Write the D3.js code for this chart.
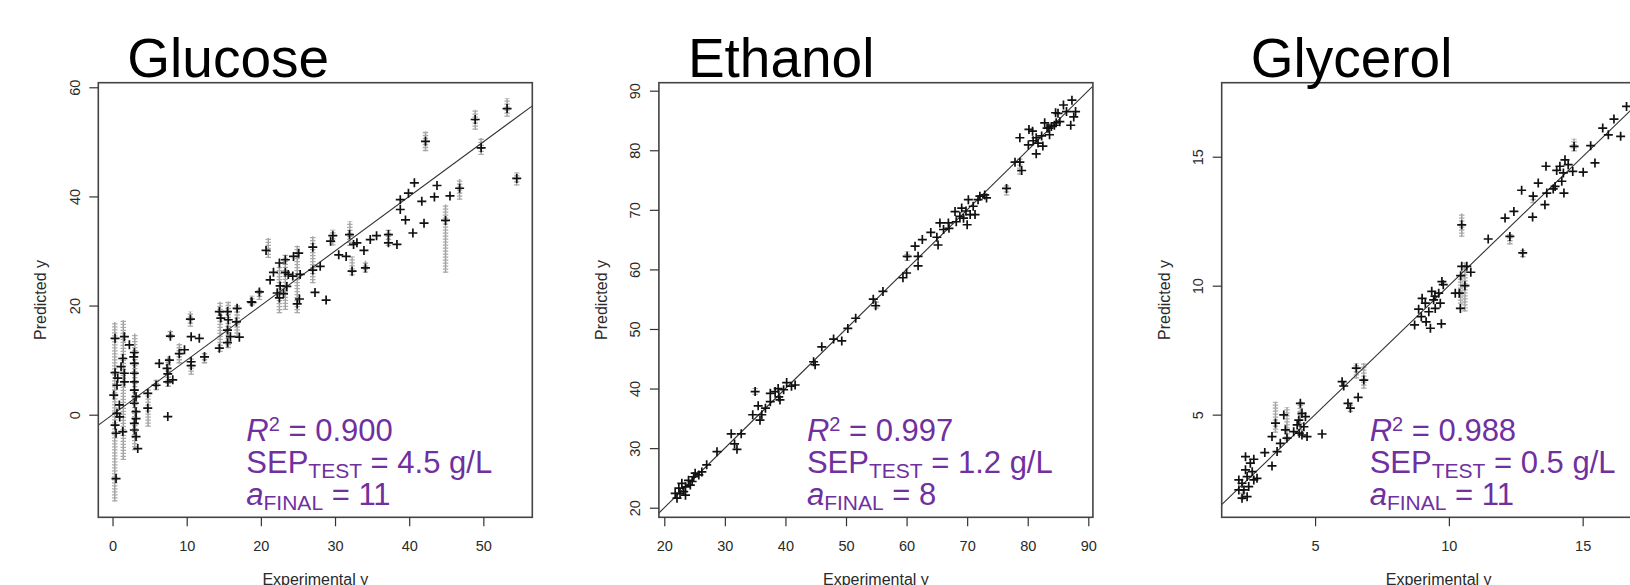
<!DOCTYPE html>
<html>
<head>
<meta charset="utf-8">
<script src="https://cdn.jsdelivr.net/npm/d3@7"></script>
<style>
body{margin:0;background:#fff}
svg{display:block}
text{font-family:"Liberation Sans",Arial,Helvetica,sans-serif}
</style>
</head>
<body>
<svg id="chart" width="1630" height="585"></svg>
<script>
// panel titles and fit statistics
var titles = ["Glucose", "Ethanol", "Glycerol"];
var r2Values = ["0.900", "0.997", "0.988"];
var sepValues = ["4.5", "1.2", "0.5"];
var aFinalValues = ["11", "8", "11"];

// axis ranges and ticks
var xDomains = [[-1.92, 56.6], [19.11, 90.76], [1.51, 17.73]];
var yDomains = [[-18.8, 60.84], [18.39, 91.34], [1.02, 17.87]];
var xTicks = [[0, 10, 20, 30, 40, 50], [20, 30, 40, 50, 60, 70, 80, 90], [5, 10, 15]];
var yTicks = [[0, 20, 40, 60], [20, 30, 40, 50, 60, 70, 80, 90], [5, 10, 15]];

// black "+" : [experimental, predicted]
var glucosePts = [[0.34,14.0],[1.6,14.3],[2.27,12.8],[2.94,11.4],[2.86,10.6],[1.38,10.3],[1.15,8.8],[0.34,7.7],[1.6,7.6],[0.7,6.7],[1.6,6.0],[0.6,5.4],[0.16,3.6],[0.92,1.8],[0.6,0.25],[0.96,-0.4],[0.34,-1.9],[1.38,-3.1],[0.47,-3.4],[0.47,-11.7],[2.94,9.4],[2.94,7.6],[2.94,6.0],[2.94,4.5],[3.17,3.3],[2.94,2.1],[3.17,0.55],[3.17,-0.7],[2.94,-1.6],[2.94,-2.8],[3.17,-4.0],[3.4,-6.2],[4.75,3.9],[4.75,1.2],[5.87,5.4],[6.3,9.4],[7.35,8.5],[7.45,7.5],[7.45,6.0],[8.12,6.4],[7.67,10.0],[7.8,14.4],[7.45,-0.35],[9.0,11.2],[9.7,11.9],[10.5,17.5],[10.6,14.3],[10.6,9.7],[10.6,9.0],[11.7,14.0],[12.4,10.6],[14.4,18.9],[14.6,17.7],[15.5,18.9],[15.6,17.4],[16.8,19.5],[16.7,17.0],[15.5,15.5],[15.9,14.3],[17.1,14.2],[15.5,13.2],[14.4,12.2],[18.7,20.7],[19.8,22.5],[20.7,30.1],[18.8,20.6],[21.25,24.7],[21.7,26.1],[22.5,27.8],[23.3,28.4],[24.4,29.0],[25.1,29.6],[23.3,26.1],[23.7,25.7],[24.3,25.4],[25.3,25.7],[22.6,23.6],[23.5,23.5],[22.2,22.3],[23.05,22.2],[22.5,21.4],[25.2,21.2],[24.9,20.3],[27.3,22.4],[28.8,21.0],[27.0,30.7],[28.0,27.2],[27.0,26.5],[29.7,32.8],[29.4,31.8],[30.5,29.3],[31.5,29.0],[31.95,33.0],[32.5,31.2],[32.95,31.5],[33.9,30.1],[34.75,32.1],[35.6,32.8],[34.1,26.9],[32.3,26.3],[37.2,33.0],[37.2,31.5],[38.35,31.2],[39.5,35.7],[40.5,33.3],[42.0,35.1],[38.8,37.6],[38.8,39.4],[39.9,40.6],[40.7,42.5],[41.7,39.1],[43.4,39.9],[43.75,42.0],[45.5,40.1],[46.8,41.5],[44.9,35.6],[42.2,50.1],[48.9,54.1],[49.7,48.9],[53.2,56.1],[54.5,43.3]];
var ethanolPts = [[22.1,21.6],[22.6,22.4],[23.2,22.7],[22.4,23.3],[23.5,23.5],[24.3,23.8],[24.0,24.6],[24.85,25.2],[25.1,25.8],[25.7,25.5],[26.2,26.0],[27.0,27.2],[24.6,24.4],[23.5,22.1],[21.8,22.4],[22.9,24.1],[28.7,29.4],[31.05,32.4],[32.7,32.4],[31.6,30.7],[32.0,29.8],[35.0,39.5],[35.5,37.1],[34.6,35.6],[36.1,35.6],[35.8,34.7],[36.7,36.7],[37.5,37.8],[37.5,39.2],[38.3,39.5],[38.9,38.6],[39.1,38.1],[38.8,40.0],[39.7,39.8],[40.2,41.0],[41.6,40.6],[41.0,40.4],[44.65,44.5],[44.9,44.0],[46.0,47.0],[47.95,48.3],[49.3,48.0],[50.3,50.1],[51.6,51.8],[54.5,55.0],[54.9,53.9],[56.1,56.3],[59.4,58.6],[60.0,59.4],[60.1,62.2],[61.9,62.2],[61.9,60.6],[61.4,63.9],[62.6,65.0],[64.0,66.2],[65.2,64.1],[65.0,65.4],[65.5,67.8],[66.1,66.7],[66.9,67.8],[67.0,66.9],[68.0,69.7],[68.2,68.0],[68.8,68.9],[69.1,70.3],[69.8,69.8],[70.2,71.7],[70.5,69.2],[71.0,70.6],[71.3,69.2],[70.0,67.5],[71.8,71.7],[72.1,72.3],[72.9,72.5],[73.2,72.0],[69.4,68.6],[76.5,73.6],[77.9,78.0],[78.7,78.0],[79.0,76.6],[78.7,82.1],[80.2,83.5],[80.8,83.2],[80.1,80.9],[80.9,81.6],[81.4,82.1],[81.7,81.2],[82.3,82.4],[82.5,80.7],[81.4,79.4],[82.8,84.6],[83.2,83.7],[83.6,82.6],[83.9,84.0],[84.6,86.3],[84.7,84.6],[87.3,88.4],[85.9,87.6],[86.4,86.5],[87.9,86.5],[87.6,85.6],[85.0,86.2],[85.3,84.8],[87.1,84.2],[84.4,84.2],[83.5,83.7]];
var glycerolPts = [[2.15,2.47],[2.27,2.34],[2.46,2.60],[2.65,2.79],[2.40,2.86],[2.71,2.47],[2.52,2.21],[2.34,2.08],[2.46,1.82],[2.15,2.08],[2.83,2.53],[2.40,3.37],[2.71,3.27],[2.58,3.12],[2.27,1.76],[3.12,3.53],[3.39,3.01],[3.58,3.57],[3.70,3.89],[3.39,4.15],[3.52,4.67],[3.83,4.99],[3.89,4.41],[3.95,4.09],[4.20,4.34],[4.45,5.44],[4.51,5.05],[4.39,4.79],[4.64,4.92],[4.33,4.60],[4.58,4.53],[4.51,4.21],[4.70,4.15],[4.41,4.28],[5.26,4.25],[6.01,6.28],[6.07,6.11],[6.54,6.80],[6.82,6.34],[6.23,5.44],[6.61,5.67],[6.32,5.25],[8.72,8.48],[8.97,8.80],[8.87,9.09],[9.12,9.32],[9.25,8.99],[9.31,8.35],[9.15,8.60],[9.43,9.45],[9.49,9.12],[9.62,9.71],[9.68,9.32],[9.74,10.16],[9.72,8.52],[9.0,9.51],[10.24,9.71],[10.39,9.71],[10.43,9.12],[9.79,10.04],[9.36,9.78],[9.48,9.59],[10.48,10.75],[10.67,10.75],[10.82,10.52],[10.44,10.39],[10.60,10.0],[10.48,12.36],[11.47,11.81],[12.28,11.91],[12.76,11.27],[12.10,12.62],[12.43,12.88],[13.13,12.66],[13.15,13.47],[12.72,13.70],[13.34,13.98],[13.59,13.14],[13.66,13.59],[13.90,13.75],[13.97,13.85],[14.22,14.05],[14.30,13.59],[13.63,14.63],[14.03,14.47],[14.15,14.63],[14.28,14.37],[14.34,14.88],[14.46,14.69],[14.63,14.43],[15.02,14.40],[15.46,14.76],[14.68,15.40],[15.30,15.43],[15.75,16.11],[15.96,15.85],[16.42,15.79],[16.17,16.46],[16.64,16.95]];

// grey spread of predictions: [experimental, lowest, highest]
var glucoseSpread = [[0.3,-15.9,17.0],[1.45,-8.3,17.3],[3.0,-6.5,14.9],[4.8,-2.2,4.8],[5.9,4.5,6.4],[7.5,5.1,10.6],[7.8,14.0,15.5],[9.0,9.4,13.1],[10.5,16.1,18.9],[10.6,7.3,10.6],[12.4,9.4,11.5],[14.5,11.5,20.7],[15.6,12.2,20.7],[16.8,14.3,20.1],[18.8,20.0,21.8],[19.8,21.0,23.2],[21.0,28.7,32.4],[22.5,18.6,27.2],[23.3,19.2,29.3],[24.9,18.6,31.0],[27.0,24.1,32.7],[29.7,31.0,33.9],[32.0,30.9,35.4],[32.3,25.5,29.0],[34.1,26.0,28.2],[37.2,30.9,33.9],[42.2,48.3,51.9],[44.9,26.0,38.5],[46.8,39.4,43.2],[48.9,52.2,55.9],[49.7,47.6,50.7],[53.2,54.6,58.0],[54.5,42.0,44.4]];
var ethanolSpread = [[76.5,72.4,74.2],[78.7,75.9,78.6],[60.1,61.4,63.0],[35.0,38.9,40.1],[55.0,53.4,54.6]];
var glycerolSpread = [[3.52,4.3,5.5],[3.95,4.0,5.3],[4.45,4.4,5.5],[6.82,6.0,7.0],[6.54,6.4,7.0],[10.48,11.9,12.8],[10.6,9.0,10.9],[10.44,9.3,10.4],[12.76,11.1,11.4],[13.15,13.2,13.5],[14.68,15.2,15.7],[12.28,11.6,12.0],[6.32,5.1,5.4],[2.3,1.7,2.1]];

var crossSets = [glucosePts, ethanolPts, glycerolPts];
var spreadSets = [glucoseSpread, ethanolSpread, glycerolSpread];

// layout
var plotLefts = [98.3, 658.9, 1221.7];
var plotTop = 82.7, plotW = 434, plotH = 434.6;
var purple = "#7030a0";

var svg = d3.select("#chart");
svg.append("rect").attr("width", 1630).attr("height", 585).attr("fill", "#fff");

for (var i = 0; i < titles.length; i++) drawPanel(i);

function drawPanel(i) {
  var left = plotLefts[i];
  var x = d3.scaleLinear().domain(xDomains[i]).range([left, left + plotW]);
  var y = d3.scaleLinear().domain(yDomains[i]).range([plotTop + plotH, plotTop]);
  var g = svg.append("g");

  g.append("clipPath").attr("id", "clip" + i)
    .append("rect").attr("x", left).attr("y", plotTop).attr("width", plotW).attr("height", plotH);

  var inner = g.append("g").attr("clip-path", "url(#clip" + i + ")");

  // grey spread, drawn as stacked small pluses
  inner.selectAll("line.spread").data(spreadSets[i]).enter().append("line")
    .attr("class", "spread")
    .attr("x1", function(d) { return x(d[0]); }).attr("x2", function(d) { return x(d[0]); })
    .attr("y1", function(d) { return y(d[1]); }).attr("y2", function(d) { return y(d[2]); })
    .attr("stroke", "#9c9c9c").attr("stroke-width", 1.4);
  inner.selectAll("line.spreadbars").data(spreadSets[i]).enter().append("line")
    .attr("class", "spreadbars")
    .attr("x1", function(d) { return x(d[0]); }).attr("x2", function(d) { return x(d[0]); })
    .attr("y1", function(d) { return y(d[1]); }).attr("y2", function(d) { return y(d[2]); })
    .attr("stroke", "#aaaaaa").attr("stroke-width", 5.5).attr("stroke-dasharray", "1.3,1.7");

  // y = x reference line
  var lo = Math.min(xDomains[i][0], yDomains[i][0]), hi = Math.max(xDomains[i][1], yDomains[i][1]);
  inner.append("line")
    .attr("x1", x(lo)).attr("y1", y(lo)).attr("x2", x(hi)).attr("y2", y(hi))
    .attr("stroke", "#333").attr("stroke-width", 1.1);

  // black crosses
  inner.selectAll("path.pt").data(crossSets[i]).enter().append("path")
    .attr("class", "pt")
    .attr("transform", function(d) { return "translate(" + x(d[0]) + "," + y(d[1]) + ")"; })
    .attr("d", "M-4.5,0H4.5M0,-4.5V4.5")
    .attr("stroke", "#111").attr("stroke-width", 1.7).attr("fill", "none");

  // frame
  g.append("rect").attr("x", left).attr("y", plotTop).attr("width", plotW).attr("height", plotH)
    .attr("fill", "none").attr("stroke", "#444").attr("stroke-width", 1.6);

  // x axis
  var xa = g.append("g").attr("transform", "translate(0," + (plotTop + plotH) + ")")
    .call(d3.axisBottom(x).tickValues(xTicks[i]).tickSize(9).tickPadding(14).tickFormat(d3.format("d")));
  xa.select(".domain").remove();
  xa.selectAll(".tick line").attr("stroke", "#333").attr("stroke-width", 1.2);
  xa.selectAll(".tick text").attr("fill", "#2a2a2a").attr("font-size", 14.5)
    .attr("font-family", "'Liberation Sans', Arial, sans-serif");

  // y axis
  var ya = g.append("g").attr("transform", "translate(" + left + ",0)")
    .call(d3.axisLeft(y).tickValues(yTicks[i]).tickSize(9).tickFormat(d3.format("d")));
  ya.select(".domain").remove();
  ya.selectAll(".tick line").attr("stroke", "#333").attr("stroke-width", 1.2);
  ya.selectAll(".tick text").attr("fill", "#2a2a2a").attr("font-size", 14.5)
    .attr("font-family", "'Liberation Sans', Arial, sans-serif")
    .attr("transform", "rotate(-90)").attr("x", 0).attr("y", -18.5).attr("dy", null)
    .attr("text-anchor", "middle");

  // axis labels (the bottom one runs off the page edge, as in the original)
  g.append("text").attr("x", left + plotW / 2).attr("y", 584.5).attr("text-anchor", "middle")
    .attr("font-size", 16).attr("fill", "#2a2a2a").text("Experimental y");
  g.append("text").attr("transform", "translate(" + (left - 52) + "," + (plotTop + plotH / 2) + ") rotate(-90)")
    .attr("text-anchor", "middle").attr("font-size", 16).attr("fill", "#2a2a2a").text("Predicted y");

  // title
  g.append("text").attr("x", left + 29).attr("y", 76.7).attr("font-size", 55).attr("fill", "#000")
    .text(titles[i]);

  // statistics
  var sx = left + 148;
  var t1 = g.append("text").attr("x", sx).attr("y", 441).attr("font-size", 31).attr("fill", purple);
  t1.append("tspan").attr("font-style", "italic").text("R");
  t1.append("tspan").attr("font-size", 20).attr("dy", -10).text("2");
  t1.append("tspan").attr("dy", 10).text(" = " + r2Values[i]);

  var t2 = g.append("text").attr("x", sx).attr("y", 473).attr("font-size", 31).attr("fill", purple);
  t2.append("tspan").text("SEP");
  t2.append("tspan").attr("font-size", 21).attr("dy", 5).text("TEST");
  t2.append("tspan").attr("dy", -5).text(" = " + sepValues[i] + " g/L");

  var t3 = g.append("text").attr("x", sx).attr("y", 505).attr("font-size", 31).attr("fill", purple);
  t3.append("tspan").attr("font-style", "italic").text("a");
  t3.append("tspan").attr("font-size", 21).attr("dy", 5).text("FINAL");
  t3.append("tspan").attr("dy", -5).text(" = " + aFinalValues[i]);
}
</script>
</body>
</html>
